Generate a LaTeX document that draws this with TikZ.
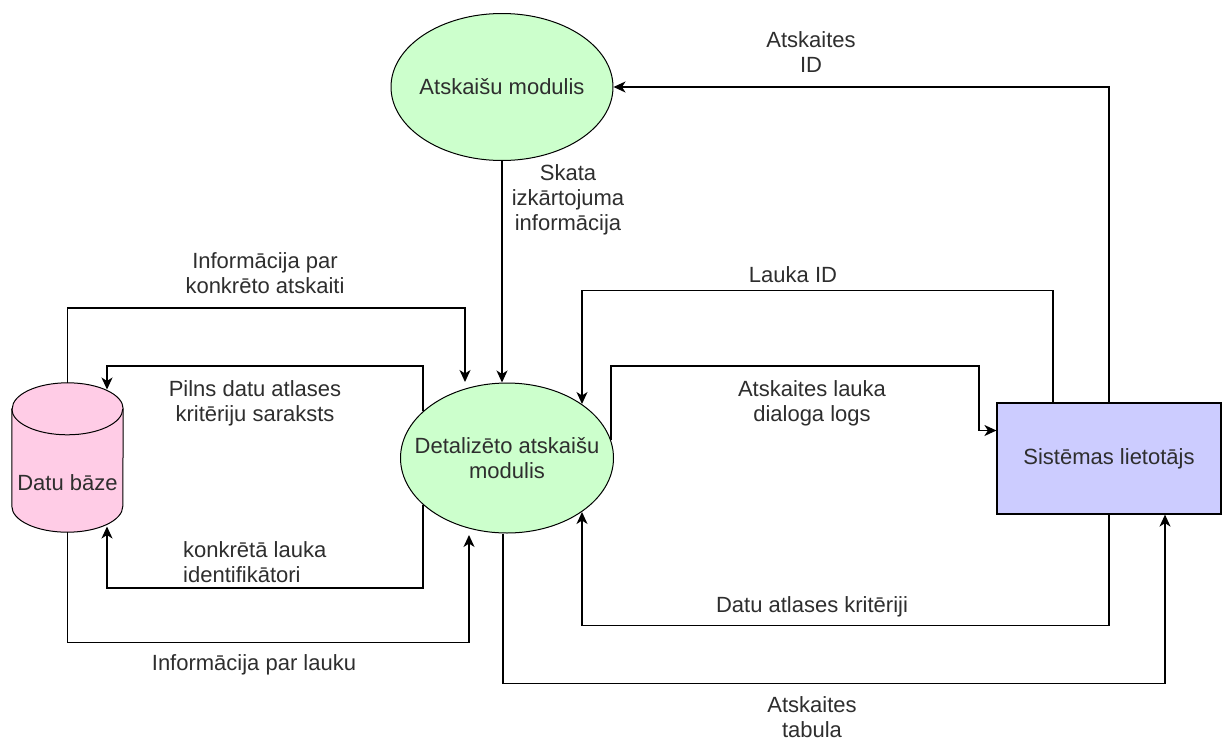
\documentclass[tikz,border=0pt]{standalone}
\usepackage{fontspec}
\setmainfont{Liberation Sans}
\usetikzlibrary{arrows.meta,calc,shapes.geometric}
\definecolor{procfill}{HTML}{CCFFCC}
\definecolor{storefill}{HTML}{FFCCE6}
\definecolor{actorfill}{HTML}{CCCCFF}
\definecolor{txt}{HTML}{2E2E2E}

\begin{document}
\begin{tikzpicture}[x=1pt,y=-1pt,
  every node/.style={font=\fontsize{22}{25}\selectfont, text=txt},
  process/.style={ellipse, draw, fill=procfill, line width=1pt, inner sep=0},
  actor/.style={rectangle, draw, fill=actorfill, line width=1.2pt, minimum width=224, minimum height=111},
  store/.style={rectangle, minimum width=111, minimum height=149, inner sep=0},
  flow/.style={draw, line width=1.4pt, -{Stealth[length=12pt,width=11pt,inset=3.5pt]}},
  lbl/.style={align=center, inner sep=0},
]
\fill[white] (0,0) rectangle (1223,747);
\useasboundingbox (0,0) rectangle (1223,747);

% processes
\node[process, minimum width=222, minimum height=147] (mod) at (502,87) {};
\node at (mod) {Atskaišu modulis};
\node[process, minimum width=213, minimum height=150] (det) at (507,458) {};
\node[lbl] at (det) {Detalizēto atskaišu\\modulis};

% data store (cylinder)
\node[store] (db) at (67.5,457.5) {};
\path[draw, line width=1pt, fill=storefill]
  ($(db.north west)+(0,26)$) -- ($(db.south west)+(0,-26)$)
  arc[start angle=180, end angle=360, x radius=55.5pt, y radius=26pt]
  -- ($(db.north east)+(0,26)$)
  arc[start angle=0, end angle=180, x radius=55.5pt, y radius=26pt] -- cycle;
\draw[line width=1pt] ($(db.north west)+(0,26)$)
  arc[start angle=180, end angle=360, x radius=55.5pt, y radius=26pt];
\node at ($(db.center)+(0,25)$) {Datu bāze};

% external entity
\node[actor] (sys) at (1109,458.5) {Sistēmas lietotājs};

% data flows
\draw[flow] (db.north) -- ++(0,-75) -| ($(det.center)+(-42,-76)$);
\draw[flow] ($(det.center)+(-84,-47)$) -- ++(0,-45) -| ($(db.center)+(39.5,-68)$);
\draw[flow] ($(det.center)+(-84,47)$) -- ++(0,83) -| ($(db.center)+(39.5,69)$);
\draw[flow] (db.south) -- ++(0,110) -| ($(det.center)+(-38,77)$);
\draw[flow] (mod.south) -- (mod.south |- det.north);
\draw[flow] (sys.north) |- (mod.east);
\draw[flow] ($(sys.north)+(-56,0)$) -- ++(0,-112) -| ($(det.center)+(75,-54)$);
\draw[flow] ($(det.center)+(104,-18)$) -- ++(0,-74) -- ++(368,0) |- ($(sys.west)+(0,-28)$);
\draw[flow] (sys.south) -- ++(0,111) -| ($(det.center)+(75,54)$);
\draw[flow] ($(det.south)+(-4,0)$) -- ++(0,150) -| ($(sys.south)+(56,0)$);

% flow labels
\node[lbl] (l1) at (265,273) {Informācija par\\konkrēto atskaiti};
\node[lbl] (l2) at (255,403) {Pilns datu atlases\\kritēriju saraksts};
\node[lbl, align=left, anchor=west] (l3) at (183,562) {konkrētā lauka\\identifikātori};
\node[lbl] (l4) at (254,665) {Informācija par lauku};
\node[lbl] (l5) at (568,200) {Skata\\izkārtojuma\\informācija};
\node[lbl] (l6) at (811,52) {Atskaites\\ID};
\node[lbl] (l7) at (793,275) {Lauka ID};
\node[lbl] (l8) at (812,403) {Atskaites lauka\\dialoga logs};
\node[lbl] (l9) at (812,607) {Datu atlases kritēriji};
\node[lbl] (l10) at (812,717) {Atskaites\\tabula};
\end{tikzpicture}
\end{document}
